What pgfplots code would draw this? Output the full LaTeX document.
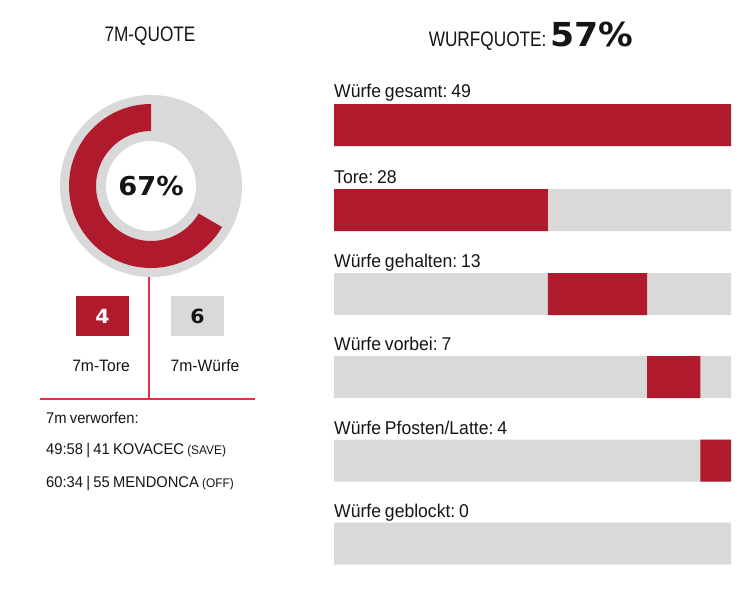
\documentclass[border=0pt]{standalone}
\usepackage{pgfplots}
\pgfplotsset{compat=1.18}
\usepackage{fontspec}
\setmainfont[FakeStretch=0.95, WordSpace=0.8]{Liberation Sans}
\newfontfamily\titlefont[FakeStretch=0.82, WordSpace=0.8]{Liberation Sans}
\newfontfamily\numfont[FakeStretch=1.05]{DejaVu Sans}
\frenchspacing
\definecolor{hred}{HTML}{AF1A2D}
\definecolor{hgrey}{HTML}{D9D9D9}
\definecolor{lred}{HTML}{E2324A}
\definecolor{txt}{HTML}{151515}
\begin{document}
\frenchspacing
\begin{tikzpicture}[every node/.style={text=txt, inner sep=0pt}]
\path (0,0) rectangle (746pt,-596pt);
% ---- bars background
\begin{axis}[at={(334pt,-564pt)}, anchor=south west, scale only axis,
  width=397pt, height=460pt, xmin=0, xmax=52, ymin=104, ymax=564,
  y dir=reverse, hide axis, xbar, bar width=42, clip=false]
\addplot[fill=hgrey, draw=none] coordinates {(52,125) (52,210) (52,294) (52,377) (52,460.5) (52,543.5)};
\end{axis}
% ---- red segments
\begin{axis}[at={(334pt,-564pt)}, anchor=south west, scale only axis,
  width=397pt, height=460pt, xmin=0, xmax=52, ymin=104, ymax=564,
  y dir=reverse, hide axis, xbar stacked, bar width=42, clip=false]
\addplot[draw=none, fill=none] coordinates {(0,125) (0,210) (28,294) (41,377) (48,460.5)};
\addplot[fill=hred, draw=none] coordinates {(52,125) (28,210) (13,294) (7,377) (4,460.5)};
\end{axis}
% ---- donut
\begin{axis}[at={(151pt,-186pt)}, anchor=center, scale only axis,
  width=200pt, height=200pt, xmin=-100, xmax=100, ymin=-100, ymax=100,
  hide axis, clip=false]
\pgfmathsetmacro\angend{90+360*4/6}
\fill[hgrey] (axis cs:0,0) circle[radius=91pt];
\fill[white] (axis cs:0,0) circle[radius=45pt];
\fill[hred] (axis cs:0,82) arc[start angle=90, end angle=\angend, radius=82pt]
  -- (axis cs:{55*cos(\angend)},{55*sin(\angend)}) arc[start angle=\angend, end angle=90, radius=55pt] -- cycle;
\node at (axis cs:0,0) {\numfont\bfseries\fontsize{26}{26}\selectfont 67\%};
\end{axis}
% ---- titles
\node[anchor=base] at (150pt,-42pt) {\titlefont\fontsize{21}{21}\selectfont 7M-QUOTE};
\node[anchor=base] at (531pt,-47pt) {\titlefont\fontsize{21}{21}\selectfont WURFQUOTE: \numfont\bfseries\fontsize{33}{33}\selectfont 57\%};
% ---- bar labels
\foreach \t/\y in {{Würfe gesamt: 49}/98, {Tore: 28}/183, {Würfe gehalten: 13}/267, {Würfe vorbei: 7}/350, {Würfe Pfosten/Latte: 4}/434, {Würfe geblockt: 0}/517}
  \node[anchor=base west] at (334pt,-\y pt) {\frenchspacing\fontsize{18.5}{18.5}\selectfont \t};
% ---- boxes
\fill[hred] (76pt,-296pt) rectangle (129pt,-336pt);
\fill[hgrey] (171pt,-296pt) rectangle (224pt,-336pt);
\node[anchor=base, text=white] at (102.5pt,-323pt) {\numfont\bfseries\fontsize{19.5}{19.5}\selectfont 4};
\node[anchor=base] at (197.5pt,-323pt) {\numfont\bfseries\fontsize{19.5}{19.5}\selectfont 6};
% ---- separator lines
\draw[lred, line width=1.5pt] (149pt,-277pt) -- (149pt,-399pt);
\draw[lred, line width=1.5pt] (40pt,-399pt) -- (255pt,-399pt);
\node[anchor=base] at (101pt,-371pt) {\fontsize{16.5}{16.5}\selectfont 7m-Tore};
\node[anchor=base] at (205pt,-371pt) {\fontsize{16.5}{16.5}\selectfont 7m-Würfe};
\node[anchor=base west] at (46pt,-423pt) {\frenchspacing\fontsize{15.5}{15.5}\selectfont 7m verworfen:};
\node[anchor=base west] at (46pt,-454pt) {\fontsize{15.5}{15.5}\selectfont 49:58 | 41 KOVACEC {\fontsize{12.5}{12.5}\selectfont (SAVE)}};
\node[anchor=base west] at (46pt,-487pt) {\fontsize{15.5}{15.5}\selectfont 60:34 | 55 MENDONCA {\fontsize{12.5}{12.5}\selectfont (OFF)}};
\end{tikzpicture}
\end{document}
